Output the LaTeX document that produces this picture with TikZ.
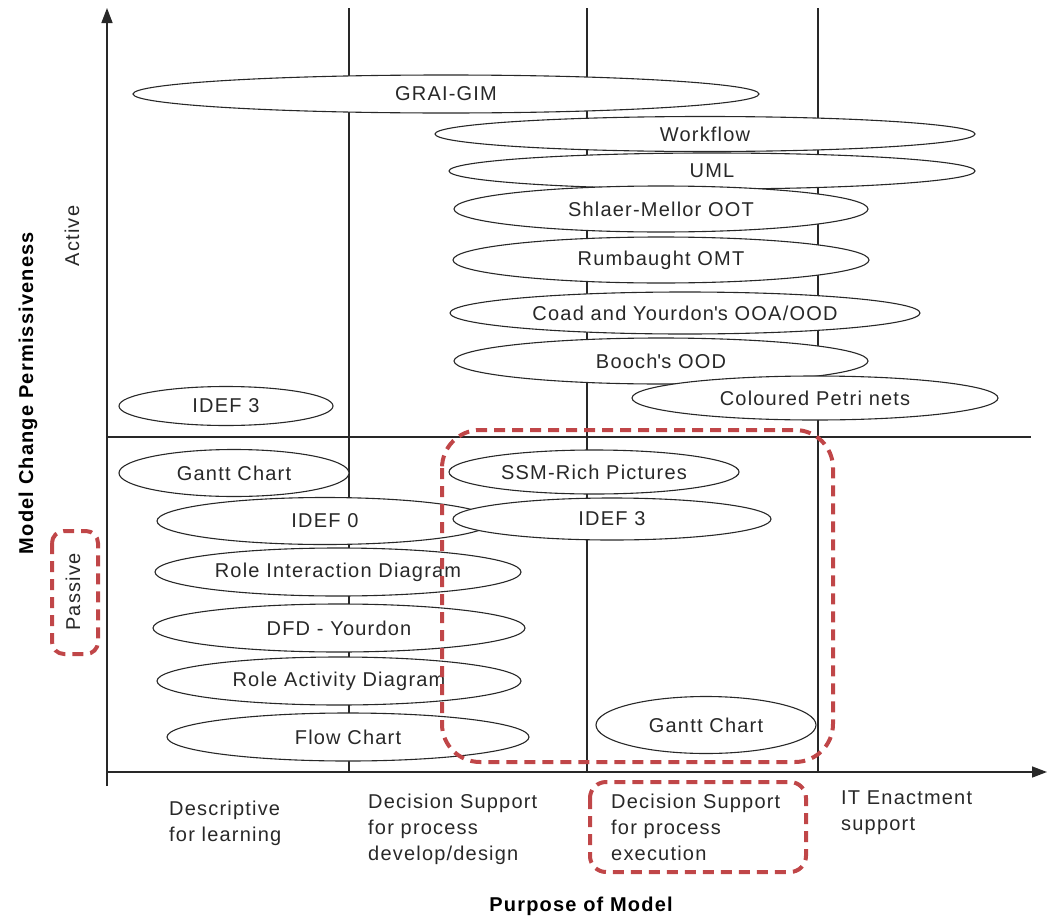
\documentclass[tikz,border=0pt]{standalone}
\usepackage{fontspec}
\setmainfont{Liberation Sans}[LetterSpace=6]
\usetikzlibrary{shapes.geometric,arrows.meta}
\definecolor{hl}{RGB}{192,70,72}
\definecolor{ink}{RGB}{40,40,40}

\begin{document}
\begin{tikzpicture}[x=1pt,y=-1pt,
  axis/.style={line width=1.5pt, ink, -{Triangle[length=15pt,width=11pt]}},
  grid/.style={line width=1.3pt, ink},
  method/.style={ellipse, draw=ink, line width=1.1pt, fill=white, inner sep=0pt,
    font=\fontsize{20}{24}\selectfont, text=ink},
  sz/.style 2 args={minimum width=#1pt, minimum height=#2pt},
  hlbox/.style={draw=hl, line width=4pt, dash pattern=on 11pt off 7pt, rounded corners=#1},
  lbl/.style={font=\fontsize{20}{26}\selectfont, align=left, text=ink, anchor=north west, inner sep=0pt},
  ttl/.style={font=\bfseries\fontsize{20}{24}\selectfont, text=black, inner sep=0pt},
]
\useasboundingbox (0,0) rectangle (1050,921);

% axes and quadrant lines
\coordinate (o) at (107,772);
\coordinate (ybot) at (107,786);
\coordinate (ytop) at (107,8);
\coordinate (xend) at (1047,772);
\draw[axis] (ybot) -- (ytop);
\draw[axis] (o) -- (xend);
\coordinate (m0) at (107,437);
\coordinate (m1) at (1031,437);
\draw[grid] (m0) -- (m1);
\foreach \x/\n in {349/a,587/b,818/c} {
  \coordinate (v\n top) at (\x,8);
  \coordinate (v\n bot) at (\x,772);
  \draw[grid] (v\n top) -- (v\n bot);
}

% active modelling methods
\node[method, sz={626}{38}] (grai) at (446,94) {GRAI-GIM};
\node[method, sz={540}{35}] (wf) at (705,134) {Workflow};
\node[method, sz={526}{36}] (uml) at (712,171) {UML};
\node[method, sz={414}{46}] (smoot) at (661,209) {Shlaer-Mellor OOT};
\node[method, sz={416}{46}] (omt) at (661,260) {Rumbaught OMT};
\node[method, sz={470}{42}] (coad) at (685,313) {Coad and Yourdon\textquotesingle s OOA/OOD};
\node[method, sz={414}{46}] (booch) at (661,361) {Booch\textquotesingle s OOD};
\node[method, sz={366}{44}] (cpn) at (815,398) {Coloured Petri nets};
\node[method, sz={214}{39}] (idefA) at (226,406) {IDEF 3};

% passive modelling methods
\node[method, sz={230}{47}] (ganttL) at (234,473) {Gantt Chart};
\node[method, sz={336}{47}] (idef0) at (325,521) {IDEF 0};
\node[method, sz={366}{48}] (rid) at (338,572) {Role Interaction Diagram};
\node[method, sz={372}{48}] (dfd) at (339,628) {DFD - Yourdon};
\node[method, sz={364}{48}] (rad) at (339,681) {Role Activity Diagram};
\node[method, sz={362}{48}] (flow) at (348,737) {Flow Chart};
\node[method, sz={290}{44}] (ssm) at (594,472) {SSM-Rich Pictures};
\node[method, sz={318}{42}] (idefB) at (612,519) {IDEF 3};
\node[method, sz={220}{57}] (ganttR) at (706,725) {Gantt Chart};

% axis titles and category labels
\node[ttl, rotate=90] (yttl) at (28,393) {Model Change Permissiveness};
\node[ttl] (xttl) at (581,906) {Purpose of Model};
\node[lbl, anchor=center, rotate=90] (active) at (72,236) {Active};
\node[lbl, anchor=center, rotate=90] (passive) at (73,592) {Passive};
\node[lbl] (p1) at (169,801) {Descriptive\\for learning};
\node[lbl] (p2) at (368,794) {Decision Support\\for process\\develop/design};
\node[lbl] (p3) at (611,794) {Decision Support\\for process\\execution};
\node[lbl] (p4) at (841,791) {IT Enactment\\support};

% highlighted regions
\draw[hlbox=12pt] (52,531) rectangle (98,654);
\draw[hlbox=16pt] (590,782) rectangle (806,872);
\draw[hlbox=38pt] (442,430) rectangle (833,762);
\end{tikzpicture}
\end{document}
